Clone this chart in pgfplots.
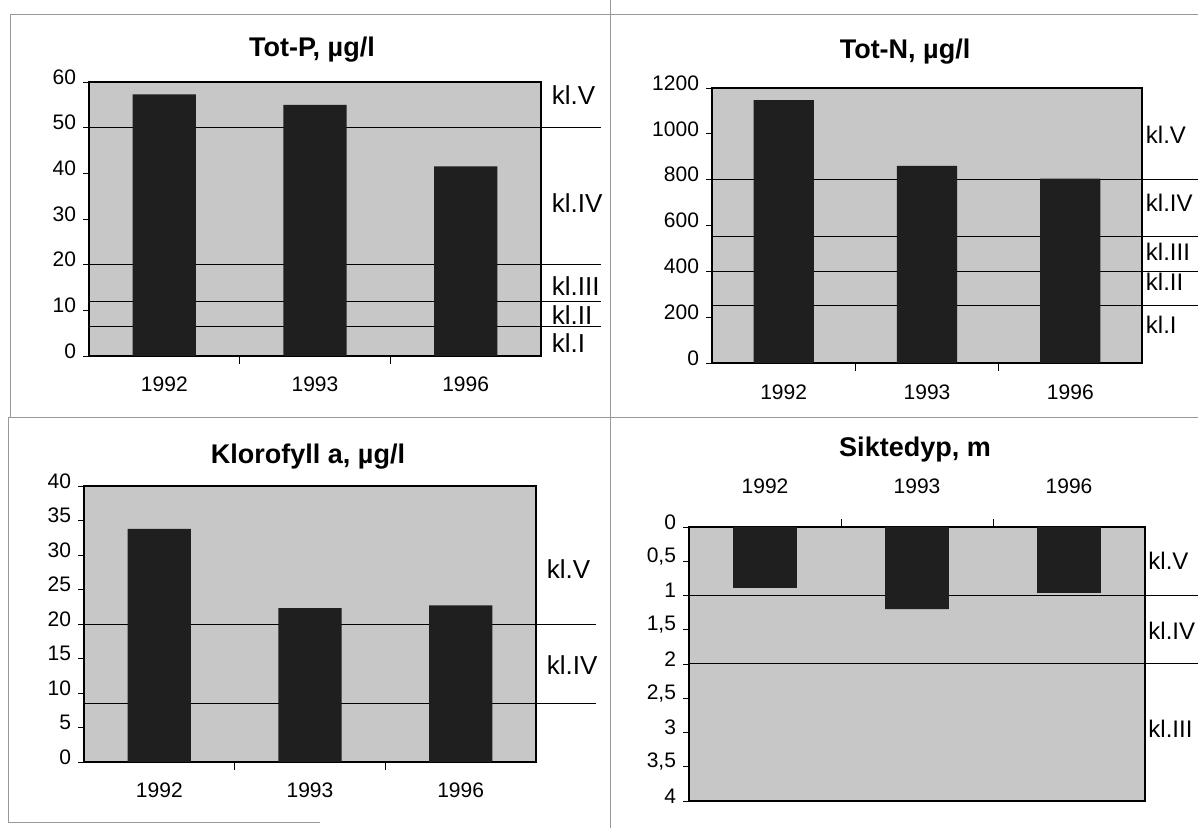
\documentclass[border=0pt]{standalone}
\usepackage{fontspec}
\setmainfont{Liberation Sans}
\usepackage{pgfplots}
\pgfplotsset{compat=1.18}
\definecolor{bggray}{rgb}{0.78,0.78,0.78}
\definecolor{bardark}{rgb}{0.12,0.12,0.12}
\pgfplotsset{
  panel/.style={
    scale only axis, anchor=south west, clip=false,
    xmin=-0.5, xmax=2.5,
    xtick={0,1,2}, xticklabels={1992,1993,1996},
    major x tick style={draw=none},
    minor xtick={0.5,1.5},
    minor x tick style={black, line width=0.4pt},
    minor tick length=4pt,
    tick align=outside,
    major tick length=3pt,
    ytick pos=left,
    axis line style={line width=0.6pt},
    axis background/.style={fill=bggray},
    tick label style={font=\fontsize{10.5}{12}\selectfont},
    /pgf/number format/assume math mode=true,
    /pgf/number format/1000 sep={},
    yticklabel style={yshift=2.5pt},
    ytick style={black, line width=0.4pt},
  },
  cl/.style={black, line width=0.5pt, forget plot},
  br/.style={ybar, bar width=0.42, fill=bardark, draw=none},
}
\tikzset{ttl/.style={font=\bfseries\fontsize{13.5}{15}\selectfont},
  kl/.style={anchor=west, font=\fontsize{13}{15}\selectfont, inner sep=0pt},
  klr/.style={anchor=west, font=\fontsize{12}{14}\selectfont, inner sep=0pt}}
\begin{document}
\begin{tikzpicture}
\path[use as bounding box] (0,0) rectangle (599pt,414pt);
% panel frames
\draw[gray!80, line width=0.4pt] (5pt,407pt) -- (599pt,407pt);
\draw[gray!80, line width=0.4pt] (5pt,407pt) -- (5pt,205.5pt);
\draw[gray!80, line width=0.4pt] (4pt,205.5pt) -- (4pt,3pt) -- (160pt,3pt);
\draw[gray!80, line width=0.4pt] (305pt,0pt) -- (305pt,414pt);
\draw[gray!80, line width=0.4pt] (4pt,205.5pt) -- (599pt,205.5pt);

% titles
\node[ttl] at (156pt,389pt) {Tot-P, µg/l};
\node[ttl] at (452.5pt,388pt) {Tot-N, µg/l};
\node[ttl] at (154pt,185.5pt) {Klorofyll a, µg/l};
\node[ttl] at (457.5pt,189pt) {Siktedyp, m};

% Tot-P
\begin{axis}[panel, at={(44.5pt,236pt)}, width=226pt, height=137pt,
  ymin=0, ymax=60, ytick={0,10,...,60}, xtick pos=bottom,
  xticklabel style={yshift=-4pt}]
\addplot[cl] coordinates {(-0.5,50) (2.9,50)};
\addplot[cl] coordinates {(-0.5,20) (2.9,20)};
\addplot[cl] coordinates {(-0.5,12) (2.9,12)};
\addplot[cl] coordinates {(-0.5,6.5) (2.9,6.5)};
\addplot[br] coordinates {(0,57.3) (1,55) (2,41.5)};
\node[kl] at (axis cs:2.57,57.2) {kl.V};
\node[kl] at (axis cs:2.57,33.4) {kl.IV};
\node[kl] at (axis cs:2.57,15.2) {kl.III};
\node[kl] at (axis cs:2.57,9.0) {kl.II};
\node[kl] at (axis cs:2.57,2.8) {kl.I};
\end{axis}

% Tot-N
\begin{axis}[panel, at={(356pt,232.5pt)}, width=215pt, height=137.5pt,
  ymin=0, ymax=1200, ytick={0,200,...,1200}, xtick pos=bottom,
  xticklabel style={yshift=-4.5pt}]
\addplot[cl] coordinates {(-0.5,800) (2.92,800)};
\addplot[cl] coordinates {(-0.5,550) (2.92,550)};
\addplot[cl] coordinates {(-0.5,400) (2.92,400)};
\addplot[cl] coordinates {(-0.5,250) (2.92,250)};
\addplot[br] coordinates {(0,1147) (1,860) (2,805)};
\node[klr] at (axis cs:2.525,995) {kl.V};
\node[klr] at (axis cs:2.525,698) {kl.IV};
\node[klr] at (axis cs:2.525,484) {kl.III};
\node[klr] at (axis cs:2.525,353) {kl.II};
\node[klr] at (axis cs:2.525,166) {kl.I};
\end{axis}

% Klorofyll a
\begin{axis}[panel, at={(42pt,33pt)}, width=226pt, height=138pt,
  ymin=0, ymax=40, ytick={0,5,...,40}, xtick pos=bottom,
  xticklabel style={yshift=-4pt}]
\addplot[cl] coordinates {(-0.5,20) (2.9,20)};
\addplot[cl] coordinates {(-0.5,8.5) (2.9,8.5)};
\addplot[br] coordinates {(0,33.8) (1,22.3) (2,22.7)};
\node[kl] at (axis cs:2.57,27.9) {kl.V};
\node[kl] at (axis cs:2.57,14.0) {kl.IV};
\end{axis}

% Siktedyp
\begin{axis}[panel, at={(344.5pt,13.5pt)}, width=228pt, height=137pt,
  ymin=0, ymax=4, y dir=reverse, ytick={0,0.5,...,4},
  yticklabels={0,{0,5},1,{1,5},2,{2,5},3,{3,5},4},
  xtick pos=top, xticklabel pos=top,
  xticklabel style={yshift=10pt}]
\addplot[cl] coordinates {(-0.5,1) (2.85,1)};
\addplot[cl] coordinates {(-0.5,2) (2.85,2)};
\addplot[br] coordinates {(0,0.89) (1,1.2) (2,0.96)};
\node[klr] at (axis cs:2.52,0.49) {kl.V};
\node[klr] at (axis cs:2.52,1.51) {kl.IV};
\node[klr] at (axis cs:2.52,2.95) {kl.III};
\end{axis}
\end{tikzpicture}
\end{document}
